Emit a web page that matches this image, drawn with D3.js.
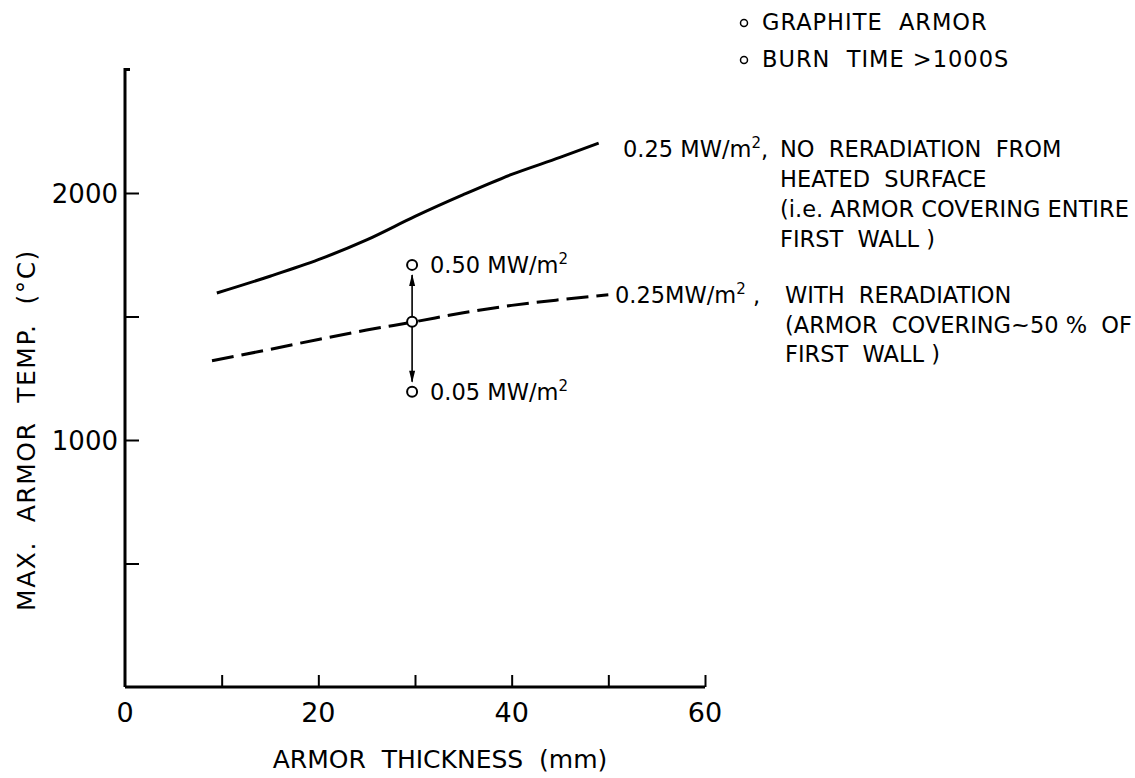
<!DOCTYPE html>
<html>
<head>
<meta charset="utf-8">
<script src="https://cdn.jsdelivr.net/npm/d3@7"></script>
<style>
  html, body { margin: 0; padding: 0; background: #fff; }
  svg { display: block; }
  text { font-family: "DejaVu Sans", sans-serif; fill: #000; white-space: pre; }
</style>
</head>
<body>
<svg id="chart" width="1135" height="778"></svg>
<script>
// ---- data ----
const solidX = [9.5, 15, 20, 25, 30, 35, 40, 45, 49];
const solidY = [1595, 1663, 1730, 1810, 1905, 1993, 2075, 2144, 2202];
const dashX = [9, 15, 20, 25, 30, 35, 40, 45, 50];
const dashY = [1321, 1367, 1407, 1445, 1479, 1515, 1545, 1568, 1588];
const pointX = [29.7, 29.7, 29.7];
const pointY = [1709, 1479, 1195];
const pointLabels = ["0.50 MW/m", "", "0.05 MW/m"];
const xTicks = [10, 20, 30, 40, 50, 60];
const xTickLabels = [0, 20, 40, 60];
const yTicks = [500, 1000, 1500, 2000];
const yTickLabels = [1000, 2000];
const notes = ["GRAPHITE  ARMOR", "BURN  TIME >1000S"];
const solidNote = ["NO  RERADIATION  FROM", "HEATED  SURFACE", "(i.e. ARMOR COVERING ENTIRE", "FIRST  WALL )"];
const dashNote = ["WITH  RERADIATION", "(ARMOR  COVERING~50 %  OF", "FIRST  WALL )"];

const svg = d3.select("#chart");
const x = d3.scaleLinear().domain([0, 60]).range([125, 705]);
const y = d3.scaleLinear().domain([0, 2500]).range([687, 69.5]);

// axes
const xAxis = d3.axisBottom(x).tickValues(xTicks).tickSize(-12).tickFormat("");
const gx = svg.append("g").attr("transform", `translate(0,${y(0)})`).call(xAxis);
gx.select(".domain").attr("stroke", "#000").attr("stroke-width", 3).attr("d", `M${x(0)},0H${x(60)}`);
gx.selectAll(".tick line").attr("stroke", "#000").attr("stroke-width", 2);

const yAxis = d3.axisLeft(y).tickValues(yTicks).tickSize(-14).tickFormat("");
const gy = svg.append("g").attr("transform", `translate(${x(0)},0)`).call(yAxis);
gy.select(".domain").attr("stroke", "#000").attr("stroke-width", 3).attr("d", `M0,${y(0)}V${y(2500)}h5`);
gy.selectAll(".tick line").attr("stroke", "#000").attr("stroke-width", 2);

// tick labels
svg.append("g").selectAll("text").data(xTickLabels).join("text")
  .attr("x", d => x(d)).attr("y", 722).attr("text-anchor", "middle")
  .attr("font-size", 27).text(d => d);
svg.append("g").selectAll("text").data(yTickLabels).join("text")
  .attr("x", 118).attr("y", d => y(d) + 10).attr("text-anchor", "end")
  .attr("font-size", 26).text(d => d);

// axis titles
svg.append("text").attr("x", 440).attr("y", 768).attr("text-anchor", "middle")
  .attr("font-size", 25).text("ARMOR  THICKNESS  (mm)");
svg.append("text").attr("transform", "translate(35,430) rotate(-90)").attr("text-anchor", "middle")
  .attr("font-size", 25).attr("letter-spacing", 1.5).text("MAX.  ARMOR  TEMP.  (°C)");

// curves
const line = d3.line().x(d => x(d[0])).y(d => y(d[1])).curve(d3.curveMonotoneX);
svg.append("path").datum(solidX.map((v, i) => [v, solidY[i]]))
  .attr("d", line).attr("fill", "none").attr("stroke", "#000").attr("stroke-width", 3);
svg.append("path").datum(dashX.map((v, i) => [v, dashY[i]]))
  .attr("d", line).attr("fill", "none").attr("stroke", "#000").attr("stroke-width", 3)
  .attr("stroke-dasharray", "22,8");

// arrows between points
const px = x(pointX[1]);
const r = 5;
svg.append("line").attr("x1", px).attr("x2", px).attr("y1", y(pointY[1]) - r).attr("y2", y(pointY[0]) + r + 5)
  .attr("stroke", "#000").attr("stroke-width", 1.6);
svg.append("line").attr("x1", px).attr("x2", px).attr("y1", y(pointY[1]) + r).attr("y2", y(pointY[2]) - r - 5)
  .attr("stroke", "#000").attr("stroke-width", 1.6);
const tipTop = y(pointY[0]) + r + 4;
const tipBot = y(pointY[2]) - r - 4;
svg.append("path").attr("d", `M${px},${tipTop}l-3,12h6z`).attr("fill", "#000");
svg.append("path").attr("d", `M${px},${tipBot}l-3,-12h6z`).attr("fill", "#000");

// points
svg.append("g").selectAll("circle").data(pointX.map((v, i) => [v, pointY[i]])).join("circle")
  .attr("cx", d => x(d[0])).attr("cy", d => y(d[1])).attr("r", r)
  .attr("fill", "#fff").attr("stroke", "#000").attr("stroke-width", 2);

// point labels
pointLabels.forEach((lab, i) => {
  if (!lab) return;
  const t = svg.append("text").attr("x", 430).attr("y", y(pointY[i]) + 8).attr("font-size", 22.5);
  t.append("tspan").text(lab);
  t.append("tspan").attr("dy", -9).attr("font-size", 15).text("2");
});

// curve annotations
const ann1 = svg.append("text").attr("x", 623).attr("y", 157).attr("font-size", 22.5);
ann1.append("tspan").text("0.25 MW/m");
ann1.append("tspan").attr("dy", -9).attr("font-size", 15).text("2");
ann1.append("tspan").attr("dy", 9).text(",");
svg.append("g").selectAll("text").data(solidNote).join("text")
  .attr("x", 780).attr("y", (d, i) => 157 + i * 30).attr("font-size", 22.5).text(d => d);

const ann2 = svg.append("text").attr("x", 615).attr("y", 303).attr("font-size", 22.5);
ann2.append("tspan").text("0.25MW/m");
ann2.append("tspan").attr("dy", -9).attr("font-size", 15).text("2");
ann2.append("tspan").attr("dy", 9).text(" ,");
svg.append("g").selectAll("text").data(dashNote).join("text")
  .attr("x", 785).attr("y", (d, i) => 303 + i * 29.5).attr("font-size", 22.5).text(d => d);

// top notes
notes.forEach((n, i) => {
  const yy = 30 + i * 37;
  svg.append("circle").attr("cx", 744).attr("cy", yy - 7).attr("r", 3.5)
    .attr("fill", "none").attr("stroke", "#000").attr("stroke-width", 1.5);
  svg.append("text").attr("x", 762).attr("y", yy).attr("font-size", 22.5)
    .attr("letter-spacing", 1).text(n);
});
</script>
</body>
</html>
